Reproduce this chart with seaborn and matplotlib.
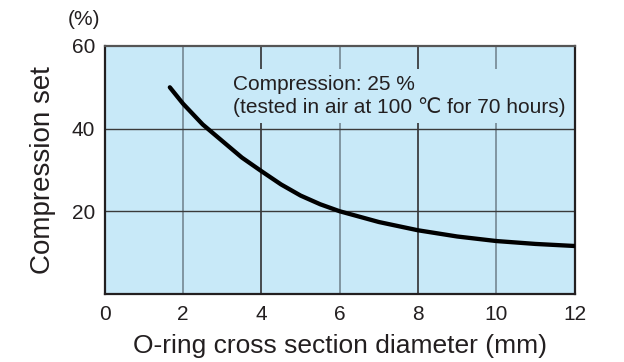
import numpy as np
import matplotlib
matplotlib.use('Agg')
import matplotlib.pyplot as plt
import seaborn as sns

# curve (diameter mm, compression set %)
DIAMETER = [1.66, 2.0, 2.5, 3.0, 3.5, 4.0, 4.5, 5.0, 5.5, 6.0, 7.0, 8.0, 9.0, 10.0, 11.0, 12.0]
COMP_SET = [50.0, 46.0, 41.0, 37.0, 33.0, 29.7, 26.5, 23.8, 21.7, 20.0, 17.4, 15.4, 13.9, 12.8, 12.1, 11.6]
X_TICKS = [0, 2, 4, 6, 8, 10, 12]
Y_TICKS = [20, 40, 60]
NOTE = 'Compression: 25 %\n(tested in air at 100 \u2103 for 70 hours)'

BG = '#c8e9f8'
DARK = '#231f20'
GRAY = '#6d7f8a'

sns.set_style('white')
plt.rcParams['font.family'] = ['Liberation Sans', 'DejaVu Sans']

fig = plt.figure(figsize=(6.24, 3.62), dpi=100)
ax = fig.add_axes([0.168, 0.188, 0.753, 0.685])
ax.set_facecolor(BG)

sns.lineplot(x=DIAMETER, y=COMP_SET, ax=ax, color='black', linewidth=3.1, zorder=5)

ax.set_xlim(0, 12)
ax.set_ylim(0, 60)
ax.set_xticks(X_TICKS)
ax.set_yticks(Y_TICKS)
ax.set_xticks([1, 3, 5, 7, 9, 11], minor=True)
ax.set_yticks([10, 30, 50], minor=True)

for x in X_TICKS[1:-1]:
    ax.axvline(x, color=DARK if x in (4, 8) else GRAY, linewidth=1.1, zorder=1)
for y in [20, 40]:
    ax.axhline(y, color='#3a3a3a', linewidth=1.0, zorder=1)

ax.tick_params(axis='both', which='major', length=0, labelsize=15, colors=DARK)
ax.tick_params(axis='x', which='major', pad=8)
ax.tick_params(axis='y', which='major', pad=7)
ax.tick_params(axis='x', which='minor', direction='in', length=5, width=1.5, color=GRAY)
ax.tick_params(axis='y', which='minor', direction='in', length=6, width=1.3, color=DARK)

for side in ['left', 'bottom', 'right']:
    ax.spines[side].set_color(DARK)
    ax.spines[side].set_linewidth(1.6)
ax.spines['top'].set_color('#555555')
ax.spines['top'].set_linewidth(1.6)

ax.text(3.27, 52.9, NOTE, fontsize=15, color=DARK, va='top', ha='left',
        linespacing=1.15, zorder=4,
        bbox=dict(boxstyle='square,pad=0.3', facecolor=BG, edgecolor='none'))

ax.set_xlabel('O-ring cross section diameter (mm)', fontsize=19, color=DARK)
ax.set_ylabel('Compression set', fontsize=20, color=DARK)
ax.xaxis.set_label_coords(0.5, -0.16)
ax.yaxis.set_label_coords(-0.104, 0.5)
fig.text(0.135, 0.945, '(%)', fontsize=15, color=DARK, ha='center', va='center')

fig.savefig('out.png', dpi=100, facecolor='white')
